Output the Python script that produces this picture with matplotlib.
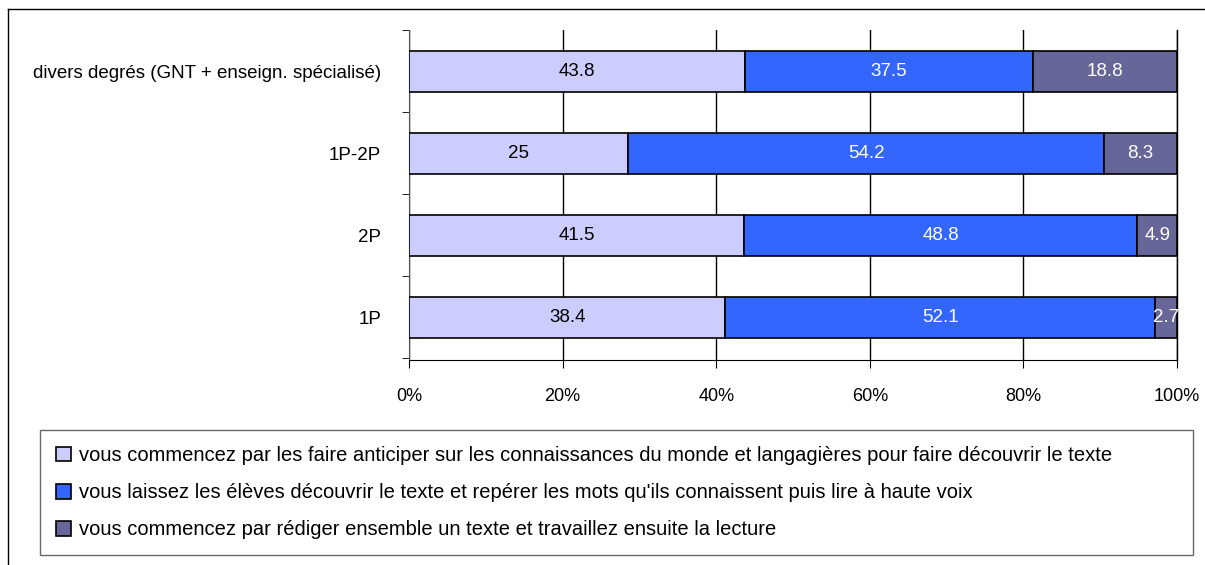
import matplotlib.pyplot as plt
import numpy as np

# data
categories = ['1P', '2P', '1P-2P', 'divers degrés (GNT + enseign. spécialisé)']
anticiper = [38.4, 41.5, 25, 43.8]
decouvrir = [52.1, 48.8, 54.2, 37.5]
rediger = [2.7, 4.9, 8.3, 18.8]
series_labels = [
    "vous commencez par les faire anticiper sur les connaissances du monde et langagières pour faire découvrir le texte",
    "vous laissez les élèves découvrir le texte et repérer les mots qu'ils connaissent puis lire à haute voix",
    "vous commencez par rédiger ensemble un texte et travaillez ensuite la lecture",
]
colors = ['#CCCCFF', '#3366FF', '#666699']
text_colors = ['black', 'white', 'white']

plt.rcParams['font.family'] = ['Liberation Sans', 'DejaVu Sans']

fig = plt.figure(figsize=(12.05, 5.65), dpi=100)
ax = fig.add_axes([409/1205, 1-360/565, 768/1205, 330/565])

data = np.array([anticiper, decouvrir, rediger])
totals = data.sum(axis=0)
pct = data / totals * 100
y = np.arange(len(categories))

left = np.zeros(len(categories))
for i in range(3):
    ax.barh(y, pct[i], left=left, height=0.5, color=colors[i], edgecolor='black',
            linewidth=1.2, label=series_labels[i], zorder=3)
    for j in range(len(categories)):
        ax.text(left[j] + pct[i][j]/2, y[j], f"{data[i][j]:g}", ha='center', va='center',
                color=text_colors[i], fontsize=13.5, zorder=4)
    left += pct[i]

ax.set_xlim(0, 100)
ax.set_ylim(-0.52, 3.5)
ax.set_xticks(np.arange(0, 101, 20))
ax.set_xticklabels([f"{v}%" for v in range(0, 101, 20)], fontsize=13)
ax.xaxis.grid(True, color='black', linewidth=1, zorder=0)
ax.axvline(100, color='black', linewidth=1, zorder=0, clip_on=False)
ax.tick_params(axis='x', length=6, pad=14, color='black')

ax.set_yticks(y)
ax.set_yticklabels(categories, fontsize=13.5)
ax.set_yticks(np.arange(-0.5, 3.6, 1), minor=True)
ax.tick_params(axis='y', which='major', length=0, pad=20)
ax.tick_params(axis='y', which='minor', length=5)

for s in ['top', 'right']:
    ax.spines[s].set_visible(False)
ax.spines['left'].set_color('#555555')
ax.spines['bottom'].set_color('black')

# outer frame
fig.add_artist(plt.Line2D([8/1205, 8/1205], [0, 1-9/565], color='black', linewidth=1))
fig.add_artist(plt.Line2D([8/1205, 1], [1-9/565, 1-9/565], color='black', linewidth=1))

leg = fig.legend(loc='upper left', bbox_to_anchor=(40/1205, 1-555/565, 1153/1205, 125/565),
                 mode='expand', fontsize=14.5, frameon=True, fancybox=False,
                 edgecolor='#444444', handlelength=0.75, handleheight=0.75,
                 handletextpad=0.4, labelspacing=0.9, borderpad=0.8, borderaxespad=0)
leg.get_frame().set_linewidth(1)

plt.savefig('out.png', dpi=100)
